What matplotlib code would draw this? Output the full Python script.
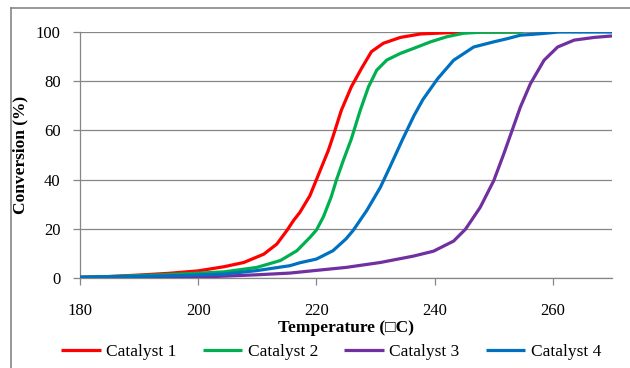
import matplotlib.pyplot as plt
from matplotlib.lines import Line2D

plt.rcParams['font.family'] = ['Liberation Serif', 'DejaVu Serif']

# curves: temperature (C) and conversion (%)
t1 = [180, 185, 190, 195, 200, 204.4, 207.7, 211.1, 213.3, 215.0, 216.1, 217.2,
      218.9, 220, 221.1, 222, 222.8, 224.2, 225.9, 227.6, 229.3, 231.3, 234.2,
      237.6, 242.1, 244.3, 254.5]
c1 = [0.3, 0.6, 1.2, 1.9, 2.9, 4.6, 6.3, 9.7, 13.8, 19.3, 23.3, 26.7,
      33.5, 40, 46.5, 51.8, 57.5, 68.1, 77.7, 85.1, 92, 95.4, 97.8,
      99.2, 99.7, 100, 100]

t2 = [180, 185, 190, 197, 204.4, 209.9, 213.9, 216.7, 218.9, 220, 221.2, 222.5,
      223.4, 224.5, 225.9, 227.4, 228.8, 230.2, 231.9, 234.2, 236.4, 239.3,
      242.1, 244.9, 247.7, 255]
c2 = [0.3, 0.6, 1.0, 1.6, 2.5, 4.3, 7.1, 11.1, 16.5, 19.5, 25, 33,
      40, 47.5, 56.5, 68.1, 77.7, 84.5, 88.6, 91.3, 93.3, 96.0,
      98.1, 99.5, 99.9, 100]

t3 = [180, 190, 202.7, 209.9, 215.5, 220, 225, 230.8, 236.4, 239.8, 243.2,
      245.2, 247.7, 250, 251.7, 253.1, 254.5, 256.2, 258.5, 260.8, 263.6, 267, 270]
c3 = [0.2, 0.3, 0.6, 1.3, 2.0, 3.1, 4.3, 6.3, 8.9, 10.9, 15,
      19.8, 28.7, 39.6, 50.5, 60, 69.5, 79, 88.5, 93.9, 96.7, 97.8, 98.4]

t4 = [180, 190, 197, 204.4, 209.9, 215.5, 217.2, 220, 222.8, 225, 226.2, 228.5,
      230.8, 232.5, 234.5, 236.5, 238, 240.5, 243.2, 246.6, 250, 252.3, 254.5,
      257.9, 261, 270]
c4 = [0.3, 0.7, 1.0, 1.6, 3.0, 5.0, 6.2, 7.7, 11.1, 15.9, 19.3, 27.4,
      36.8, 45.5, 56, 66, 72.5, 81, 88.5, 93.9, 96.0, 97.3, 98.7,
      99.3, 100, 100]

labels = ['Catalyst 1', 'Catalyst 2', 'Catalyst 3', 'Catalyst 4']
colors = ['#FF0000', '#00B050', '#7030A0', '#0070C0']
xticks = [180, 200, 220, 240, 260]
yticks = [0, 20, 40, 60, 80, 100]

fig = plt.figure(figsize=(6.3, 3.68), dpi=100)
ax = fig.add_axes([80 / 630, 1 - 278 / 368, 532 / 630, 246 / 368])

grey = '#868686'
for t, c, col, lab in zip([t1, t2, t3, t4], [c1, c2, c3, c4], colors, labels):
    ax.plot(t, c, color=col, lw=2.3, label=lab, solid_joinstyle='round',
            solid_capstyle='butt', zorder=3)

ax.set_xlim(180, 270)
ax.set_ylim(0, 100)
ax.set_xticks(xticks)
ax.set_yticks(yticks)
ax.yaxis.grid(True, color=grey, lw=0.9)
ax.set_axisbelow(True)
for s in ['top', 'right']:
    ax.spines[s].set_visible(False)
for s in ['left', 'bottom']:
    ax.spines[s].set_color(grey)
    ax.spines[s].set_linewidth(0.9)
ax.tick_params(axis='both', direction='out', color=grey, length=5, width=0.9,
               labelsize=12, labelcolor='black')
ax.tick_params(axis='x', pad=13)
ax.tick_params(axis='y', pad=9)

ax.set_xlabel('Temperature (\u25a1C)', fontsize=12.5, fontweight='bold', labelpad=1)
ax.set_ylabel('Conversion (%)', fontsize=12.5, fontweight='bold', labelpad=5)

# outer chart border
fig.add_artist(Line2D([11 / 630, 1.0], [1 - 8 / 368, 1 - 8 / 368],
                      transform=fig.transFigure, color=grey, lw=1.2))
fig.add_artist(Line2D([11 / 630, 11 / 630], [0, 1 - 8 / 368],
                      transform=fig.transFigure, color=grey, lw=1.2))

handles, labs = ax.get_legend_handles_labels()
fig.legend(handles, labs, loc='center', bbox_to_anchor=(331 / 630, 1 - 352 / 368),
           ncol=4, frameon=False, fontsize=12.5, handlelength=2.3,
           handletextpad=0.3, columnspacing=1.5)

fig.savefig('out.png', dpi=100)
